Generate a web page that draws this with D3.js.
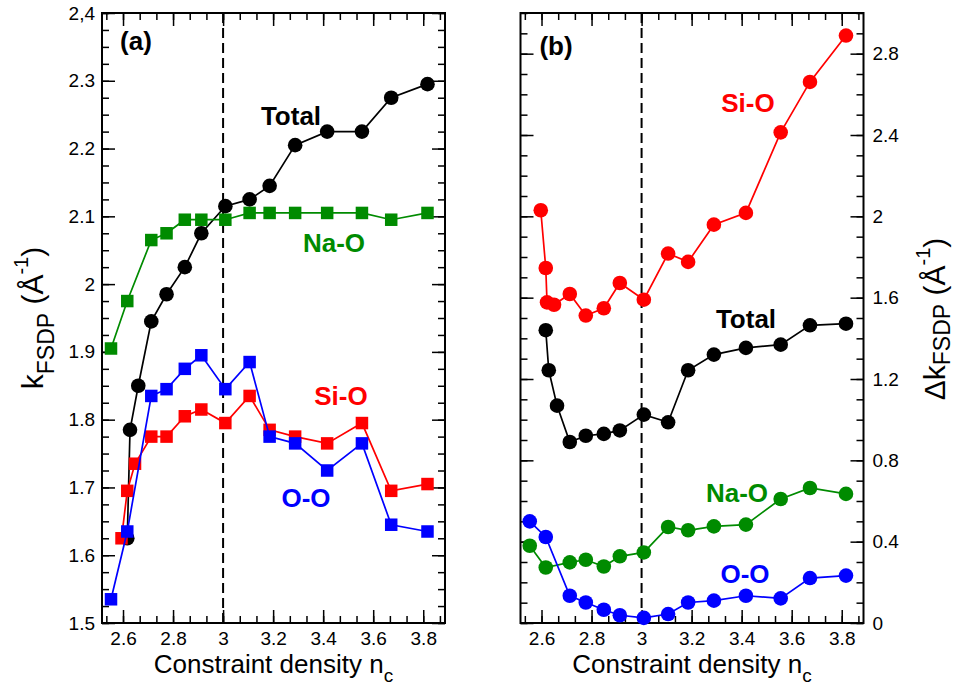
<!DOCTYPE html>
<html>
<head>
<meta charset="utf-8">
<script src="https://cdn.jsdelivr.net/npm/d3@7"></script>
<style>
  body { margin: 0; background: #fff; }
  svg { font-family: "Liberation Sans", Arial, Helvetica, sans-serif; }
</style>
</head>
<body>
<svg id="chart" width="956" height="688"></svg>
<script>
// ---- panel (a): k_FSDP vs constraint density ----
const ncA_total = [2.617, 2.628, 2.661, 2.713, 2.774, 2.847, 2.913, 3.009, 3.106, 3.186, 3.288, 3.416, 3.555, 3.672, 3.817];
const kTotal    = [1.625, 1.785, 1.85, 1.945, 1.985, 2.025, 2.075, 2.115, 2.125, 2.145, 2.205, 2.225, 2.225, 2.275, 2.295];
const ncA_naO   = [2.552, 2.617, 2.713, 2.774, 2.847, 2.913, 3.009, 3.106, 3.186, 3.288, 3.416, 3.555, 3.672, 3.817];
const kNaO      = [1.905, 1.975, 2.065, 2.075, 2.095, 2.095, 2.095, 2.105, 2.105, 2.105, 2.105, 2.105, 2.095, 2.105];
const ncA_siO   = [2.594, 2.617, 2.648, 2.713, 2.774, 2.847, 2.913, 3.009, 3.106, 3.186, 3.288, 3.416, 3.555, 3.672, 3.817];
const kSiO      = [1.625, 1.695, 1.735, 1.775, 1.775, 1.805, 1.815, 1.795, 1.835, 1.785, 1.775, 1.765, 1.795, 1.695, 1.705];
const ncA_oO    = [2.552, 2.617, 2.713, 2.774, 2.847, 2.913, 3.009, 3.106, 3.186, 3.288, 3.416, 3.555, 3.672, 3.817];
const kOO       = [1.535, 1.635, 1.835, 1.845, 1.875, 1.895, 1.845, 1.885, 1.775, 1.765, 1.725, 1.765, 1.645, 1.635];

// ---- panel (b): delta k_FSDP ----
const ncB_siO   = [2.597, 2.617, 2.622, 2.650, 2.713, 2.777, 2.849, 2.913, 3.009, 3.106, 3.186, 3.289, 3.417, 3.556, 3.673, 3.817];
const dkSiO     = [2.03, 1.746, 1.577, 1.565, 1.618, 1.512, 1.548, 1.672, 1.590, 1.817, 1.776, 1.959, 2.017, 2.413, 2.661, 2.889];
const ncB_total = [2.617, 2.629, 2.662, 2.713, 2.777, 2.849, 2.913, 3.009, 3.106, 3.186, 3.289, 3.417, 3.556, 3.673, 3.817];
const dkTotal   = [1.44, 1.243, 1.069, 0.890, 0.921, 0.930, 0.947, 1.025, 0.987, 1.243, 1.320, 1.353, 1.369, 1.464, 1.472];
const ncB_naO   = [2.553, 2.617, 2.713, 2.777, 2.849, 2.913, 3.009, 3.106, 3.186, 3.289, 3.417, 3.556, 3.673, 3.817];
const dkNaO     = [0.380, 0.273, 0.298, 0.311, 0.278, 0.328, 0.347, 0.472, 0.456, 0.475, 0.484, 0.610, 0.664, 0.635];
const ncB_oO    = [2.553, 2.617, 2.713, 2.777, 2.849, 2.913, 3.009, 3.106, 3.186, 3.289, 3.417, 3.556, 3.673, 3.817];
const dkOO      = [0.500, 0.423, 0.134, 0.101, 0.065, 0.038, 0.025, 0.044, 0.101, 0.110, 0.134, 0.121, 0.221, 0.233];

// ticks
const xTicks   = [2.6, 2.8, 3, 3.2, 3.4, 3.6, 3.8];
const xLabels  = ["2.6", "2.8", "3", "3.2", "3.4", "3.6", "3.8"];
const yTicksA  = [1.5, 1.6, 1.7, 1.8, 1.9, 2.0, 2.1, 2.2, 2.3, 2.4];
const yLabelsA = ["1.5", "1.6", "1.7", "1.8", "1.9", "2", "2.1", "2.2", "2.3", "2,4"];
const yTicksB  = [0, 0.4, 0.8, 1.2, 1.6, 2.0, 2.4, 2.8];
const yLabelsB = ["0", "0.4", "0.8", "1.2", "1.6", "2", "2.4", "2.8"];

const colors = { total: "#000000", siO: "#ff0000", naO: "#008b00", oO: "#0000ff" };

const svg = d3.select("#chart");
const yTop = 13, yBottom = 623;
const xDomain = [2.516, 3.887];

const panels = [
  {
    id: "a",
    x: d3.scaleLinear().domain(xDomain).range([102, 445]),
    y: d3.scaleLinear().domain([1.5, 2.4]).range([yBottom, yTop]),
    yTicks: yTicksA, yLabels: yLabelsA,
    yMinor: d3.range(1.5, 2.4001, 0.025),
    labelSide: "left",
    series: [
      { nc: ncA_total, v: kTotal, color: colors.total, sym: "circle" },
      { nc: ncA_naO, v: kNaO, color: colors.naO, sym: "square" },
      { nc: ncA_siO, v: kSiO, color: colors.siO, sym: "square" },
      { nc: ncA_oO, v: kOO, color: colors.oO, sym: "square" }
    ],
    notes: [
      { t: "(a)", x: 136, y: 50, c: "#000" },
      { t: "Total", x: 291, y: 125, c: colors.total },
      { t: "Na-O", x: 334, y: 252, c: colors.naO },
      { t: "Si-O", x: 341, y: 405, c: colors.siO },
      { t: "O-O", x: 306, y: 507, c: colors.oO }
    ]
  },
  {
    id: "b",
    x: d3.scaleLinear().domain(xDomain).range([520.5, 863.5]),
    y: d3.scaleLinear().domain([0, 3.0]).range([yBottom, yTop]),
    yTicks: yTicksB, yLabels: yLabelsB,
    yMinor: d3.range(0, 3.0001, 0.1),
    labelSide: "right",
    series: [
      { nc: ncB_total, v: dkTotal, color: colors.total, sym: "circle" },
      { nc: ncB_siO, v: dkSiO, color: colors.siO, sym: "circle" },
      { nc: ncB_naO, v: dkNaO, color: colors.naO, sym: "circle" },
      { nc: ncB_oO, v: dkOO, color: colors.oO, sym: "circle" }
    ],
    notes: [
      { t: "(b)", x: 556, y: 55, c: "#000" },
      { t: "Si-O", x: 748, y: 112, c: colors.siO },
      { t: "Total", x: 746, y: 328, c: colors.total },
      { t: "Na-O", x: 737, y: 502, c: colors.naO },
      { t: "O-O", x: 745, y: 583, c: colors.oO }
    ]
  }
];

const xMinor = d3.range(2.6 - 1 / 15, 3.89, 1 / 15);

panels.forEach(p => {
  const g = svg.append("g").attr("class", "panel-" + p.id);
  const [x0, x1] = p.x.range();

  // dashed line at n_c = 3
  g.append("line")
    .attr("x1", p.x(3)).attr("x2", p.x(3))
    .attr("y1", yTop).attr("y2", yBottom)
    .attr("stroke", "#000").attr("stroke-width", 2)
    .attr("stroke-dasharray", "10,5");

  // bottom axis (ticks point inward)
  g.append("g").attr("transform", `translate(0,${yBottom})`)
    .call(d3.axisBottom(p.x).tickValues(xMinor).tickSize(-7).tickSizeOuter(0).tickFormat(""));
  g.append("g").attr("class", "xlab").attr("transform", `translate(0,${yBottom})`)
    .call(d3.axisBottom(p.x).tickValues(xTicks).tickSize(-13).tickSizeOuter(0).tickPadding(9)
      .tickFormat((d, i) => xLabels[i]));
  // top axis
  g.append("g").attr("transform", `translate(0,${yTop})`)
    .call(d3.axisTop(p.x).tickValues(xMinor).tickSize(-7).tickSizeOuter(0).tickFormat(""));
  g.append("g").attr("transform", `translate(0,${yTop})`)
    .call(d3.axisTop(p.x).tickValues(xTicks).tickSize(-13).tickSizeOuter(0).tickFormat(""));

  // left + right axes
  const leftLab = p.labelSide === "left";
  g.append("g").attr("transform", `translate(${x0},0)`)
    .call(d3.axisLeft(p.y).tickValues(p.yMinor).tickSize(-7).tickSizeOuter(0).tickFormat(""));
  g.append("g").attr("transform", `translate(${x0},0)`)
    .call(d3.axisLeft(p.y).tickValues(p.yTicks).tickSize(-13).tickSizeOuter(0).tickPadding(7)
      .tickFormat((d, i) => leftLab ? p.yLabels[i] : ""));
  g.append("g").attr("transform", `translate(${x1},0)`)
    .call(d3.axisRight(p.y).tickValues(p.yMinor).tickSize(-7).tickSizeOuter(0).tickFormat(""));
  g.append("g").attr("transform", `translate(${x1},0)`)
    .call(d3.axisRight(p.y).tickValues(p.yTicks).tickSize(-13).tickSizeOuter(0).tickPadding(9)
      .tickFormat((d, i) => leftLab ? "" : p.yLabels[i]));

  g.selectAll(".domain").remove();
  g.selectAll(".tick line").attr("stroke", "#000").attr("stroke-width", 1.5);
  g.selectAll(".tick text").attr("font-size", 19).attr("fill", "#000")
    .attr("font-family", "'Liberation Sans', Arial, sans-serif");

  // frame
  g.append("rect")
    .attr("x", x0).attr("y", yTop)
    .attr("width", x1 - x0).attr("height", yBottom - yTop)
    .attr("fill", "none").attr("stroke", "#000").attr("stroke-width", 2);

  // series
  p.series.forEach(s => {
    const pts = s.nc.map((n, i) => [n, s.v[i]]);
    g.append("path")
      .datum(pts)
      .attr("fill", "none")
      .attr("stroke", s.color)
      .attr("stroke-width", 1.7)
      .attr("d", d3.line().x(d => p.x(d[0])).y(d => p.y(d[1])));
    if (s.sym === "circle") {
      g.selectAll(null).data(pts).enter().append("circle")
        .attr("cx", d => p.x(d[0])).attr("cy", d => p.y(d[1]))
        .attr("r", 7.3).attr("fill", s.color);
    } else {
      const sz = 12.5;
      g.selectAll(null).data(pts).enter().append("rect")
        .attr("x", d => p.x(d[0]) - sz / 2).attr("y", d => p.y(d[1]) - sz / 2)
        .attr("width", sz).attr("height", sz).attr("fill", s.color);
    }
  });

  // annotations
  p.notes.forEach(n => {
    g.append("text")
      .attr("x", n.x).attr("y", n.y)
      .attr("text-anchor", "middle")
      .attr("font-size", 26).attr("font-weight", "bold")
      .attr("fill", n.c)
      .text(n.t);
  });

  // x axis title
  const xt = g.append("text")
    .attr("x", (x0 + x1) / 2).attr("y", 673)
    .attr("text-anchor", "middle").attr("font-size", 26).attr("fill", "#000");
  xt.append("tspan").text("Constraint density n");
  xt.append("tspan").attr("font-size", 19).attr("dy", 9).text("c");
});

// y axis titles
function yTitle(tx, ty, prefix, subShift) {
  const t = svg.append("text")
    .attr("transform", `translate(${tx},${ty}) rotate(-90)`)
    .attr("text-anchor", "middle").attr("font-size", 30).attr("fill", "#000");
  t.append("tspan").text(prefix);
  t.append("tspan").attr("font-size", 23).attr("dy", subShift).text("FSDP");
  t.append("tspan").attr("dy", -subShift).text(" (Å");
  t.append("tspan").attr("font-size", 20).attr("dy", -15).text("-1");
  t.append("tspan").attr("dy", 15).text(")");
}
yTitle(43, 318, "k", 11);
yTitle(945, 319, "Δk", 5);
</script>
</body>
</html>
